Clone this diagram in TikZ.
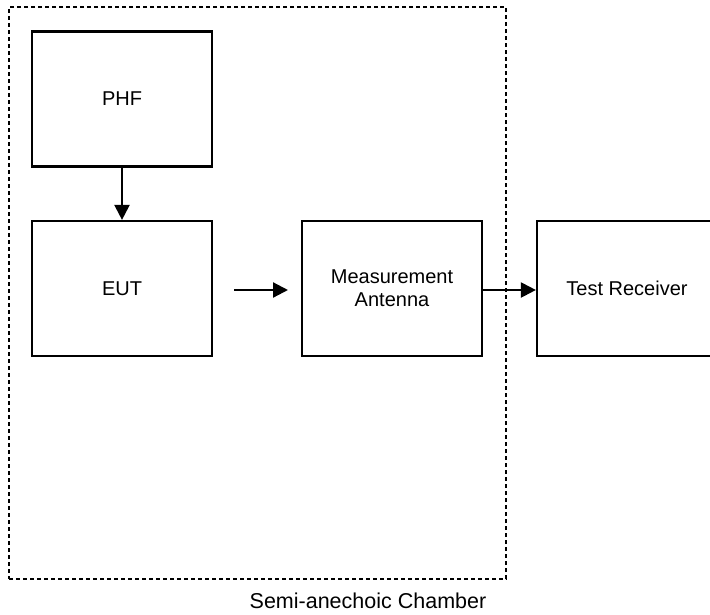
\documentclass[tikz,border=0pt]{standalone}
\usepackage{fontspec}
\setmainfont{Liberation Sans}
\usetikzlibrary{arrows.meta}
\begin{document}
\begin{tikzpicture}[x=1pt,y=-1pt,
  block/.style={draw, line width=2.2pt, rectangle, minimum width=180pt,
    minimum height=135pt, inner sep=0pt, align=center, font=\fontsize{20}{23}\selectfont},
  flow/.style={line width=2.2pt, -{Triangle[length=15pt,width=15pt]}},
  chamber/.style={draw, line width=2pt, dash pattern=on 4pt off 3pt}]
  \useasboundingbox (0,0) rectangle (710,614);
  % test chamber boundary
  \node[chamber, rectangle, minimum width=497pt, minimum height=572pt, inner sep=0pt]
    (room) at (257.5,293) {};
  \node[font=\fontsize{21.5}{24}\selectfont] (roomlabel) at (368,601) {Semi-anechoic Chamber};
  % equipment blocks
  \node[block] (phf) at (122,99) {PHF};
  \node[block] (eut) at (122,288.5) {EUT};
  \node[block] (ant) at (392,288.5) {Measurement\\Antenna};
  \node[block] (rx) at (627,288.5) {Test Receiver};
  % signal paths
  \coordinate (radS) at (234,290);
  \coordinate (radE) at (288,290);
  \draw[flow] (phf) -- (eut);
  \draw[flow] (radS) -- (radE);
  \draw[flow] (ant.east |- radS) -- (rx.west |- radS);
\end{tikzpicture}
\end{document}
